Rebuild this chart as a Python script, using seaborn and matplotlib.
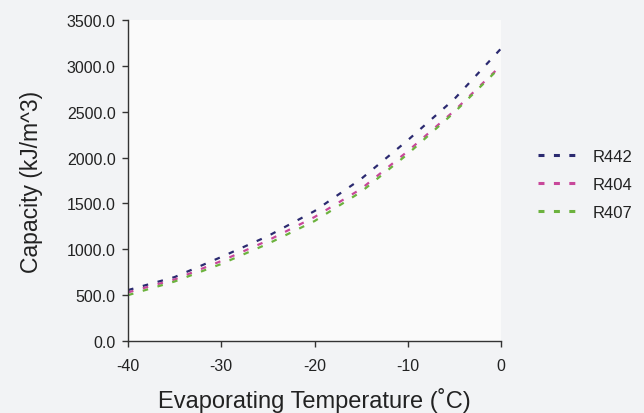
import numpy as np
import pandas as pd
import matplotlib
matplotlib.use("Agg")
import matplotlib.pyplot as plt
import seaborn as sns
from matplotlib.lines import Line2D

temps = [-40, -35, -30, -25, -20, -15, -10, -5, 0]
r442 = [555, 697, 916, 1144, 1417, 1768, 2190, 2640, 3190]
r404 = [530, 671, 872, 1096, 1352, 1659, 2070, 2512, 3005]
r407 = [500, 649, 840, 1060, 1308, 1627, 2040, 2495, 2995]
series_names = ["R442", "R404", "R407"]
colors = ["#2b2a70", "#c8479a", "#6cb23e"]
y_ticks = [0, 500, 1000, 1500, 2000, 2500, 3000, 3500]
x_ticks = [-40, -30, -20, -10, 0]

df = pd.DataFrame({
    "T": temps * 3,
    "Cap": r442 + r404 + r407,
    "Series": sum([[n] * len(temps) for n in series_names], []),
})

sns.set_theme(style="white")
plt.rcParams["font.family"] = ["Liberation Sans", "DejaVu Sans"]

fig = plt.figure(figsize=(6.44, 4.14), dpi=100, facecolor="#f2f3f5")
ax = fig.add_axes([0.1988, 0.174, 0.5792, 0.775])
ax.set_facecolor("#fafafa")

dash = (2.5, 4.4)
sns.lineplot(data=df, x="T", y="Cap", hue="Series", style="Series",
             palette=dict(zip(series_names, colors)),
             dashes={n: dash for n in series_names},
             linewidth=1.6, ax=ax, legend=False)

ax.set_xlim(-40, 0)
ax.set_ylim(0, 3500)
ax.set_xticks(x_ticks)
ax.set_yticks(y_ticks)
ax.set_yticklabels([f"{v:.1f}" for v in y_ticks])
ax.set_xticklabels([str(v) for v in x_ticks])
for s in ["top", "right"]:
    ax.spines[s].set_visible(False)
for s in ["left", "bottom"]:
    ax.spines[s].set_color("#333333")
    ax.spines[s].set_linewidth(1.0)
ax.tick_params(axis="both", direction="out", length=4, width=1, color="#333333",
               labelsize=11.5, labelcolor="#222222", bottom=True, left=True)
ax.tick_params(axis="x", pad=8)
ax.tick_params(axis="y", pad=5)
ax.set_xlabel("Evaporating Temperature (˚C)", fontsize=17, color="#222222", labelpad=10)
ax.set_ylabel("Capacity (kJ/m^3)", fontsize=16.5, color="#222222", labelpad=17)

plt.rcParams["lines.scale_dashes"] = False
handles = [Line2D([0], [0], color=c, linewidth=2.2, linestyle=(0, (4.3, 6.8)),
                  solid_capstyle="butt", dash_capstyle="butt") for c in colors]
leg = fig.legend(handles, series_names, loc="center left", bbox_to_anchor=(0.812, 0.553),
                 frameon=False, fontsize=12, handlelength=2.22, labelspacing=0.78,
                 handletextpad=1.05)
for t in leg.get_texts():
    t.set_color("#222222")

fig.savefig("out.png", dpi=100, facecolor=fig.get_facecolor())
